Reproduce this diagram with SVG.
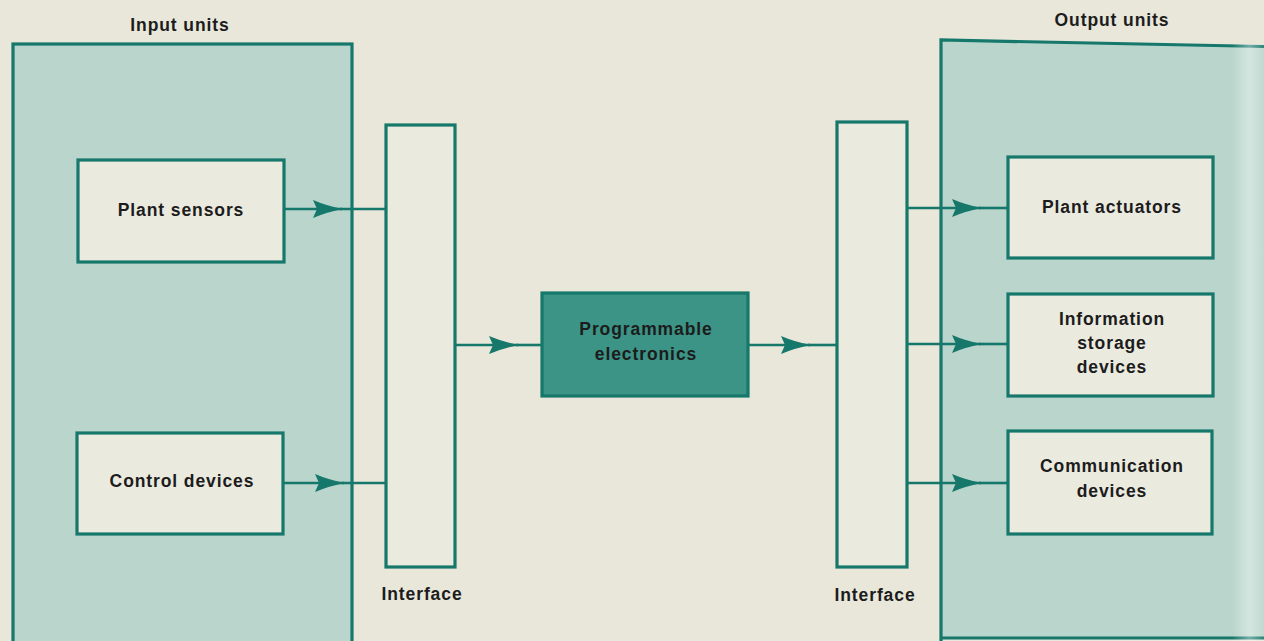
<svg xmlns="http://www.w3.org/2000/svg" width="1264" height="641" viewBox="0 0 1264 641">
<defs>
<marker id="arr" viewBox="0 0 30 18" refX="29" refY="9" markerWidth="30" markerHeight="18" markerUnits="userSpaceOnUse" orient="auto">
<path d="M0,0 Q14,6 30,9 Q14,12 0,18 L4,9 Z" fill="#16776b"/>
</marker>
<linearGradient id="sheen" x1="0" y1="0" x2="1" y2="0">
<stop offset="0" stop-color="#ffffff" stop-opacity="0"/>
<stop offset="0.55" stop-color="#ffffff" stop-opacity="0.4"/>
<stop offset="1" stop-color="#ffffff" stop-opacity="0.1"/>
</linearGradient>
</defs>
<style>
.outer{fill:#b9d5cc;stroke:#16776b;stroke-width:3.2}
.box{fill:#ebeadf;stroke:#16776b;stroke-width:3.2}
.pe{fill:#3b9486;stroke:#16776b;stroke-width:3.2}
.ln{fill:none;stroke:#16776b;stroke-width:2.6}
text{font-family:"Liberation Sans",Arial,sans-serif;font-weight:bold;font-size:17.5px;fill:#1c1c1c;text-anchor:middle;letter-spacing:0.9px}
</style>
<rect width="1264" height="641" fill="#e8e7da"/>
<g id="input-units">
<rect class="outer" x="13" y="44" width="339" height="610"/>
<text x="180" y="31">Input units</text>
</g>
<g id="output-units">
<path class="outer" d="M941,660 L941,40 L1290,47 L1290,638 L941,638"/>
<rect x="1232" y="44" width="32" height="597" fill="url(#sheen)"/>
<text x="1112" y="26">Output units</text>
</g>
<g id="plant-sensors">
<rect class="box" x="78" y="160" width="206" height="102"/>
<text x="181" y="216">Plant sensors</text>
</g>
<g id="control-devices">
<rect class="box" x="77" y="433" width="206" height="101"/>
<text x="182" y="487">Control devices</text>
</g>
<g id="interface-in">
<rect class="box" x="386" y="125" width="69" height="442"/>
<text x="422" y="600">Interface</text>
</g>
<g id="programmable-electronics">
<rect class="pe" x="542" y="293" width="206" height="103"/>
<text x="646" y="335">Programmable</text>
<text x="646" y="360">electronics</text>
</g>
<g id="interface-out">
<rect class="box" x="837" y="122" width="70" height="445"/>
<text x="875" y="601">Interface</text>
</g>
<g id="plant-actuators">
<rect class="box" x="1008" y="157" width="205" height="101"/>
<text x="1112" y="213">Plant actuators</text>
</g>
<g id="information-storage">
<rect class="box" x="1008" y="294" width="205" height="102"/>
<text x="1112" y="325">Information</text>
<text x="1112" y="349">storage</text>
<text x="1112" y="373">devices</text>
</g>
<g id="communication-devices">
<rect class="box" x="1008" y="431" width="204" height="103"/>
<text x="1112" y="472">Communication</text>
<text x="1112" y="497">devices</text>
</g>
<g id="connectors">
<line class="ln" x1="284" y1="209" x2="342" y2="209" marker-end="url(#arr)"/>
<line class="ln" x1="340" y1="209" x2="386" y2="209"/>
<line class="ln" x1="283" y1="483" x2="344" y2="483" marker-end="url(#arr)"/>
<line class="ln" x1="342" y1="483" x2="386" y2="483"/>
<line class="ln" x1="455" y1="345" x2="518" y2="345" marker-end="url(#arr)"/>
<line class="ln" x1="516" y1="345" x2="542" y2="345"/>
<line class="ln" x1="748" y1="345" x2="810" y2="345" marker-end="url(#arr)"/>
<line class="ln" x1="808" y1="345" x2="837" y2="345"/>
<line class="ln" x1="907" y1="208" x2="981" y2="208" marker-end="url(#arr)"/>
<line class="ln" x1="979" y1="208" x2="1008" y2="208"/>
<line class="ln" x1="907" y1="344" x2="981" y2="344" marker-end="url(#arr)"/>
<line class="ln" x1="979" y1="344" x2="1008" y2="344"/>
<line class="ln" x1="907" y1="483" x2="981" y2="483" marker-end="url(#arr)"/>
<line class="ln" x1="979" y1="483" x2="1008" y2="483"/>
</g>
</svg>
